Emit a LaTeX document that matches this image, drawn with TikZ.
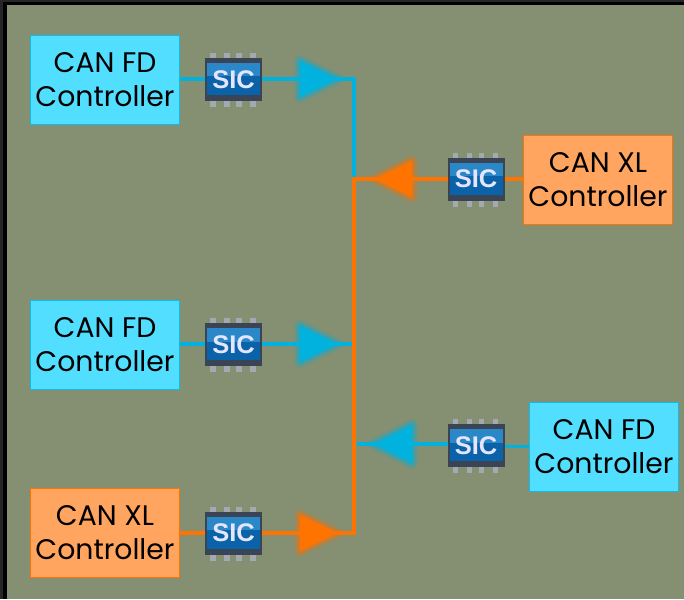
\documentclass[tikz,border=0pt]{standalone}
\usepackage{fontspec}
\setmainfont{Poppins}
\newfontfamily\chipfont{Liberation Sans}
\usetikzlibrary{positioning}
\definecolor{panel}{HTML}{858F72}
\definecolor{canfd}{HTML}{52DFFF}
\definecolor{canfdline}{HTML}{00B2DD}
\definecolor{canxl}{HTML}{FFA55F}
\definecolor{canxlline}{HTML}{FF7300}
\definecolor{chipdark}{HTML}{3A4454}
\definecolor{chiplight}{HTML}{2A88C8}
\definecolor{chipdeep}{HTML}{0A62A8}
\definecolor{chippin}{HTML}{A4A8B0}
\tikzset{
  ctrl/.style={draw, line width=1pt, minimum width=149pt, minimum height=89pt, align=center, font=\fontsize{28.3}{34}\selectfont, text=black},
  fdctrl/.style={ctrl, fill=canfd, draw=canfdline!80!canfd},
  xlctrl/.style={ctrl, fill=canxl, draw=canxlline},
  fdline/.style={canfdline, line width=3.6pt},
  xlline/.style={canxlline, line width=3.6pt}
}
% микросхема SIC
\newcommand{\sicchip}[2]{
  \foreach \px in {-20.5,-6.5,5.5,19.5} {
    \fill[chippin] (#1+\px-2.8,#2-26.5) rectangle (#1+\px+2.8,#2+27.5);
  }
  \fill[chipdark] (#1-28.5,#2-21.5) rectangle (#1+28.5,#2+21.5);
  \fill[chiplight] (#1-26.5,#2-16.5) rectangle (#1+26.5,#2-3);
  \fill[chipdeep] (#1-26.5,#2-3) rectangle (#1+26.5,#2+15.5);
  \node[text=white!90!blue, font=\chipfont\fontsize{25.5}{25.5}\bfseries\selectfont] at (#1,#2) {SIC};
}
% треугольник со свечением
\newcommand{\glowtri}[5]{
  \foreach \gw/\gop in {12/0.12,9.5/0.14,7/0.18,4.5/0.25,2/0.35} {
    \draw[#5, line width=\gw pt, line join=round, opacity=\gop] (#1,#2-#4) -- (#3,#2) -- (#1,#2+#4) -- cycle;
  }
  \fill[#5] (#1,#2-#4) -- (#3,#2) -- (#1,#2+#4) -- cycle;
}
\begin{document}
\begin{tikzpicture}[x=1pt,y=-1pt]
\useasboundingbox (0,0) rectangle (684,599);

% фон
\fill[black!85] (0,0) rectangle (684,599);
\fill[black] (3,2) rectangle (684,599);
\fill[panel] (7,5) rectangle (684,599);

% контроллеры
\node[fdctrl] (fdone) at (105,80) {CAN FD\\Controller};
\node[fdctrl] (fdtwo) at (105,344.5) {CAN FD\\Controller};
\node[xlctrl] (xlone) at (105,532.5) {CAN XL\\Controller};
\node[xlctrl] (xltwo) at (598,180) {CAN XL\\Controller};
\node[fdctrl] (fdthree) at (604,446.5) {CAN FD\\Controller};

% точки на шине
\coordinate (topbend) at (354,79);
\coordinate (xljoin) at (354,179);
\coordinate (fdjoin) at (352,344);
\coordinate (xlbend) at (354,533);
\coordinate (fdstub) at (357,444);

% линии
\draw[fdline] (fdone.east |- topbend) -- (topbend) -- (xljoin);
\draw[fdline] (fdtwo.east |- fdjoin) -- (fdjoin);
\draw[xlline] (xltwo.west |- xljoin) -- (xljoin) -- (xlbend) -- (xlone.east |- xlbend);
\draw[fdline] (fdthree.west |- 0,446.5) -- (476,446.5);
\draw[fdline] (476,444) -- (fdstub);

% треугольники
\glowtri{300}{79}{337}{18}{canfdline}
\glowtri{300}{344}{337}{18}{canfdline}
\glowtri{300}{533}{337}{18}{canxlline}
\glowtri{412}{179}{375}{18}{canxlline}
\glowtri{412}{444}{374}{19}{canfdline}

% микросхемы
\sicchip{233.5}{79.5}
\sicchip{233.5}{344.5}
\sicchip{233.5}{533}
\sicchip{476}{179}
\sicchip{476}{445.5}

\end{tikzpicture}
\end{document}
